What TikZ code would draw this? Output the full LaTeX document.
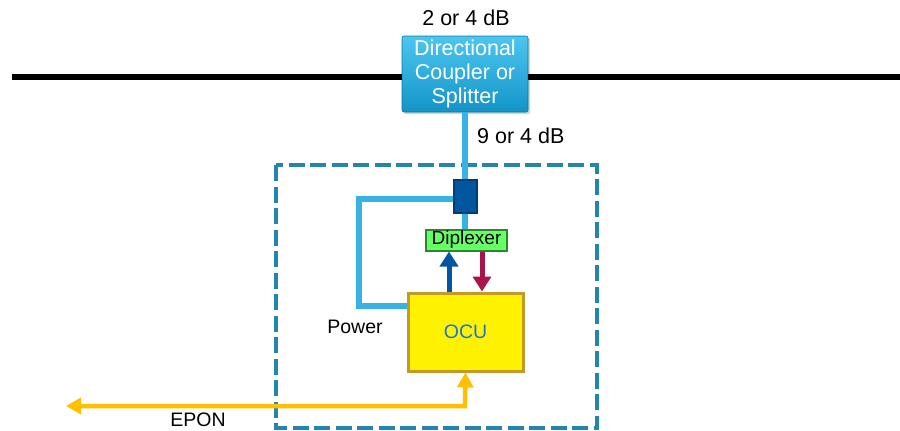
\documentclass[tikz,border=0pt]{standalone}
\usepackage{fontspec}
\setmainfont{Liberation Sans}
\usetikzlibrary{arrows.meta,shadows}
\definecolor{cpltop}{HTML}{4CC6F0}
\definecolor{cplbot}{HTML}{1394C8}
\definecolor{cable}{HTML}{36B2E3}
\definecolor{dashcol}{HTML}{2384AC}
\definecolor{dkblue}{HTML}{0057A0}
\definecolor{dkborder}{HTML}{003C78}
\definecolor{dipfill}{HTML}{66FF66}
\definecolor{dipborder}{HTML}{2A8A2A}
\definecolor{upblue}{HTML}{0056A3}
\definecolor{downred}{HTML}{A8144C}
\definecolor{ocuborder}{HTML}{C39A2A}
\definecolor{ocutext}{HTML}{1C74D8}
\definecolor{eponcol}{HTML}{FFC000}
\tikzset{
  lbl/.style={font=\fontsize{19.5}{23}\selectfont, inner sep=0pt},
  dblbl/.style={font=\fontsize{21.5}{25}\selectfont, inner sep=0pt},
  cablestyle/.style={draw=cable, line width=6pt},
  sigarrow/.style={line width=5pt, -{Triangle[length=15pt,width=18pt]}}
}
\begin{document}
\begin{tikzpicture}[x=1pt,y=-1pt]
\useasboundingbox (0,0) rectangle (900,431);
% main line
\coordinate (L) at (12,77);
\coordinate (R) at (900,77);
\node[rounded corners=2pt, minimum width=126pt, minimum height=76pt, inner sep=0pt,
  top color=cpltop, bottom color=cplbot, draw=cplbot!80!black, line width=0.6pt,
  drop shadow={opacity=0.35, shadow xshift=2pt, shadow yshift=-2pt},
  align=center, text=white, font=\fontsize{21.5}{24}\selectfont]
  (cpl) at (465,74) {Directional\\Coupler or\\Splitter};
\draw[line width=5.5pt] (L) -- (cpl.west |- L);
\draw[line width=5.5pt] (cpl.east |- R) -- (R);
\node[dblbl] (t1) at (466,18) {2 or 4 dB};
\node[dblbl, anchor=west] (t2) at (477,136) {9 or 4 dB};
% dashed box
\draw[dashcol, line width=4.5pt, dash pattern=on 16pt off 5.5pt] (276,165) rectangle (597,428);
% small dark box
\node[draw=dkborder, fill=dkblue, line width=2pt, minimum width=23pt, minimum height=33pt, inner sep=0pt] (db) at (465,196.5) {};
\draw[cablestyle] (cpl.south) -- (db.north);
% diplexer
\node[draw=dipborder, fill=dipfill, line width=2pt, minimum width=81pt, minimum height=21pt, inner sep=0pt,
  font=\fontsize{19}{22}\selectfont] (dip) at (466.5,240) {Diplexer};
\draw[cablestyle] (db.south) -- (db.south |- dip.north);
% OCU
\node[draw=ocuborder, fill=yellow, line width=3pt, minimum width=115pt, minimum height=78pt, inner sep=0pt,
  text=ocutext, font=\fontsize{19.5}{23}\selectfont] (ocu) at (465.5,332) {OCU};
% power loop
\draw[cablestyle] (db.west |- 0,199) -- (359,199) -- (359,306) -- (ocu.west |- 0,306);
\node[lbl] (pw) at (355,327) {Power};
% arrows
\draw[sigarrow, upblue] (ocu.north -| 449,0) -- (dip.south -| 449,0);
\draw[sigarrow, downred] (dip.south -| 482,0) -- (ocu.north -| 482,0);
% EPON
\coordinate (E) at (66,406);
\draw[eponcol, line width=4.5pt, {Triangle[length=15pt,width=16pt]}-{Triangle[length=15pt,width=16pt]}] (ocu.south) -- (465,406) -- (E);
\node[lbl] (ep) at (198,420) {EPON};
\end{tikzpicture}
\end{document}
